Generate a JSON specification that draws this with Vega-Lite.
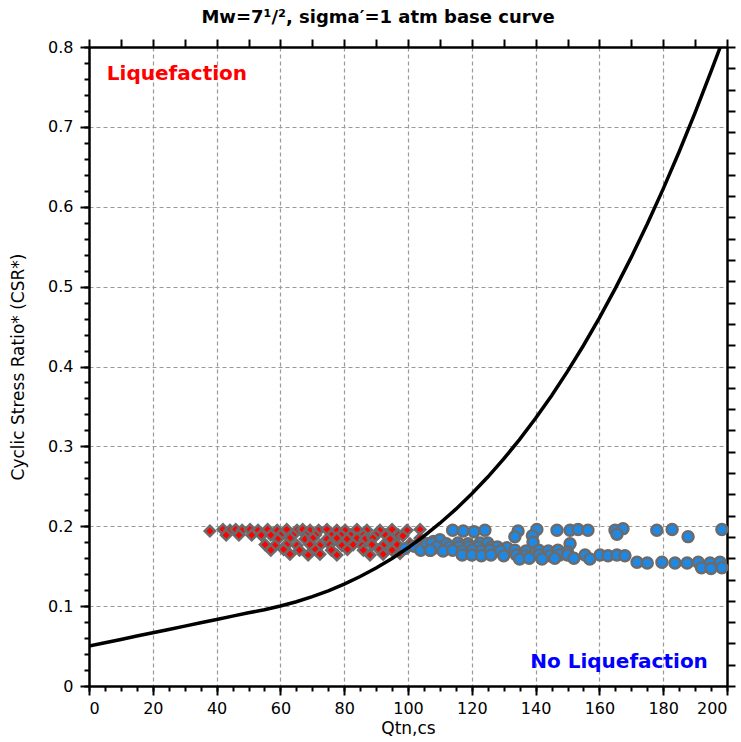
{
  "$schema": "https://vega.github.io/schema/vega-lite/v6.json",
  "width": 638,
  "height": 639,
  "autosize": "none",
  "padding": {"left": 89, "top": 47, "right": 14, "bottom": 56},
  "background": "white",
  "config": {"view": {"stroke": null}, "font": "DejaVu Sans"},
  "title": {"text": "Mw=7¹/², sigma′=1 atm base curve", "fontSize": 18, "fontWeight": "bold", "font": "DejaVu Sans", "color": "black", "offset": 11, "dx": -30, "anchor": "middle", "frame": "group"},
  "datasets": {
    "curve": [
      {"Q": 0, "CSR": 0.05}, {"Q": 5, "CSR": 0.0542}, {"Q": 10, "CSR": 0.0583}, {"Q": 15, "CSR": 0.0625},
      {"Q": 20, "CSR": 0.0667}, {"Q": 25, "CSR": 0.0708}, {"Q": 30, "CSR": 0.075}, {"Q": 35, "CSR": 0.0792},
      {"Q": 40, "CSR": 0.0833}, {"Q": 45, "CSR": 0.0875}, {"Q": 50, "CSR": 0.0916}, {"Q": 55, "CSR": 0.0955},
      {"Q": 60, "CSR": 0.1001}, {"Q": 65, "CSR": 0.1055}, {"Q": 70, "CSR": 0.1119}, {"Q": 75, "CSR": 0.1192},
      {"Q": 80, "CSR": 0.1276}, {"Q": 85, "CSR": 0.1371}, {"Q": 90, "CSR": 0.1478}, {"Q": 95, "CSR": 0.1597},
      {"Q": 100, "CSR": 0.173}, {"Q": 105, "CSR": 0.1877}, {"Q": 110, "CSR": 0.2038}, {"Q": 115, "CSR": 0.2214},
      {"Q": 120, "CSR": 0.2407}, {"Q": 125, "CSR": 0.2616}, {"Q": 130, "CSR": 0.2843}, {"Q": 135, "CSR": 0.3088},
      {"Q": 140, "CSR": 0.3352}, {"Q": 145, "CSR": 0.3635}, {"Q": 150, "CSR": 0.3939}, {"Q": 155, "CSR": 0.4263},
      {"Q": 160, "CSR": 0.4609}, {"Q": 165, "CSR": 0.4978}, {"Q": 170, "CSR": 0.5369}, {"Q": 175, "CSR": 0.5784},
      {"Q": 180, "CSR": 0.6224}, {"Q": 185, "CSR": 0.6688}, {"Q": 190, "CSR": 0.7179}, {"Q": 195, "CSR": 0.7696},
      {"Q": 197.9, "CSR": 0.8}
    ],
    "liq": [
      {"Q": 37.9, "CSR": 0.194}, {"Q": 42, "CSR": 0.196}, {"Q": 44.2, "CSR": 0.195}, {"Q": 46, "CSR": 0.196},
      {"Q": 48, "CSR": 0.195}, {"Q": 50.5, "CSR": 0.196}, {"Q": 53, "CSR": 0.195}, {"Q": 56, "CSR": 0.196},
      {"Q": 59, "CSR": 0.195}, {"Q": 62, "CSR": 0.196}, {"Q": 65.2, "CSR": 0.195}, {"Q": 67, "CSR": 0.196},
      {"Q": 69.3, "CSR": 0.195}, {"Q": 72, "CSR": 0.195}, {"Q": 74.6, "CSR": 0.196}, {"Q": 77.7, "CSR": 0.195},
      {"Q": 80.3, "CSR": 0.195}, {"Q": 84, "CSR": 0.196}, {"Q": 87.1, "CSR": 0.195}, {"Q": 91.2, "CSR": 0.195},
      {"Q": 95, "CSR": 0.196}, {"Q": 99.7, "CSR": 0.195}, {"Q": 103.8, "CSR": 0.196},
      {"Q": 43, "CSR": 0.189}, {"Q": 47, "CSR": 0.189}, {"Q": 51, "CSR": 0.189}, {"Q": 54, "CSR": 0.189},
      {"Q": 57, "CSR": 0.189}, {"Q": 60, "CSR": 0.189}, {"Q": 64, "CSR": 0.189}, {"Q": 68, "CSR": 0.189},
      {"Q": 71, "CSR": 0.189}, {"Q": 76, "CSR": 0.189}, {"Q": 79, "CSR": 0.189}, {"Q": 82, "CSR": 0.189},
      {"Q": 86, "CSR": 0.189}, {"Q": 90, "CSR": 0.189}, {"Q": 93, "CSR": 0.189}, {"Q": 97, "CSR": 0.189},
      {"Q": 59.2, "CSR": 0.184}, {"Q": 63, "CSR": 0.185}, {"Q": 67.7, "CSR": 0.184}, {"Q": 70.2, "CSR": 0.185},
      {"Q": 74.6, "CSR": 0.184}, {"Q": 77.7, "CSR": 0.185}, {"Q": 80.9, "CSR": 0.184}, {"Q": 84, "CSR": 0.185},
      {"Q": 86.5, "CSR": 0.184}, {"Q": 89, "CSR": 0.185}, {"Q": 94.4, "CSR": 0.184}, {"Q": 98.4, "CSR": 0.188},
      {"Q": 103.8, "CSR": 0.185},
      {"Q": 55.2, "CSR": 0.177}, {"Q": 58.3, "CSR": 0.176}, {"Q": 62, "CSR": 0.177}, {"Q": 65.2, "CSR": 0.176},
      {"Q": 69.3, "CSR": 0.177}, {"Q": 72.4, "CSR": 0.176}, {"Q": 75.5, "CSR": 0.177}, {"Q": 79.3, "CSR": 0.176},
      {"Q": 82.8, "CSR": 0.177}, {"Q": 85.6, "CSR": 0.176}, {"Q": 88.7, "CSR": 0.177}, {"Q": 92.2, "CSR": 0.176},
      {"Q": 96.6, "CSR": 0.177}, {"Q": 100.6, "CSR": 0.178},
      {"Q": 57, "CSR": 0.17}, {"Q": 61, "CSR": 0.171}, {"Q": 66, "CSR": 0.17}, {"Q": 71, "CSR": 0.171},
      {"Q": 76, "CSR": 0.17}, {"Q": 81, "CSR": 0.171}, {"Q": 86, "CSR": 0.17}, {"Q": 91, "CSR": 0.171},
      {"Q": 95, "CSR": 0.17},
      {"Q": 63, "CSR": 0.165}, {"Q": 68.7, "CSR": 0.164}, {"Q": 72.4, "CSR": 0.165}, {"Q": 77.7, "CSR": 0.164},
      {"Q": 88.1, "CSR": 0.164}, {"Q": 92.2, "CSR": 0.165}, {"Q": 97.5, "CSR": 0.166}
    ],
    "noliq": [
      {"Q": 99, "CSR": 0.172}, {"Q": 102, "CSR": 0.175}, {"Q": 104, "CSR": 0.17}, {"Q": 106, "CSR": 0.178},
      {"Q": 107, "CSR": 0.17}, {"Q": 108, "CSR": 0.181}, {"Q": 108.5, "CSR": 0.173}, {"Q": 110, "CSR": 0.183},
      {"Q": 111, "CSR": 0.17}, {"Q": 112, "CSR": 0.178},
      {"Q": 114, "CSR": 0.195}, {"Q": 117.3, "CSR": 0.194}, {"Q": 120.7, "CSR": 0.193}, {"Q": 124.1, "CSR": 0.195},
      {"Q": 134.5, "CSR": 0.194}, {"Q": 140.4, "CSR": 0.196}, {"Q": 146.7, "CSR": 0.195}, {"Q": 150.8, "CSR": 0.195},
      {"Q": 153.3, "CSR": 0.196}, {"Q": 156.4, "CSR": 0.195}, {"Q": 164.9, "CSR": 0.195}, {"Q": 167.4, "CSR": 0.197},
      {"Q": 178, "CSR": 0.195}, {"Q": 182.8, "CSR": 0.196}, {"Q": 198.4, "CSR": 0.196},
      {"Q": 133.5, "CSR": 0.187}, {"Q": 139, "CSR": 0.188}, {"Q": 165.5, "CSR": 0.19}, {"Q": 187.8, "CSR": 0.187},
      {"Q": 107.5, "CSR": 0.179}, {"Q": 115.7, "CSR": 0.179}, {"Q": 118.8, "CSR": 0.178}, {"Q": 122.6, "CSR": 0.179},
      {"Q": 125, "CSR": 0.179}, {"Q": 139.2, "CSR": 0.18}, {"Q": 150.8, "CSR": 0.178},
      {"Q": 109, "CSR": 0.174}, {"Q": 113, "CSR": 0.174}, {"Q": 116, "CSR": 0.174}, {"Q": 119, "CSR": 0.174},
      {"Q": 122, "CSR": 0.174}, {"Q": 126, "CSR": 0.174}, {"Q": 128, "CSR": 0.174}, {"Q": 131, "CSR": 0.173},
      {"Q": 107, "CSR": 0.17}, {"Q": 111, "CSR": 0.169}, {"Q": 114, "CSR": 0.17}, {"Q": 117, "CSR": 0.169},
      {"Q": 120, "CSR": 0.17}, {"Q": 123, "CSR": 0.169}, {"Q": 125.7, "CSR": 0.17}, {"Q": 129, "CSR": 0.169},
      {"Q": 133.5, "CSR": 0.17}, {"Q": 137, "CSR": 0.169}, {"Q": 141, "CSR": 0.17}, {"Q": 144, "CSR": 0.169},
      {"Q": 147, "CSR": 0.17}, {"Q": 150, "CSR": 0.168},
      {"Q": 117, "CSR": 0.164}, {"Q": 120, "CSR": 0.164}, {"Q": 123, "CSR": 0.163}, {"Q": 126, "CSR": 0.164},
      {"Q": 130, "CSR": 0.163}, {"Q": 134, "CSR": 0.164}, {"Q": 137, "CSR": 0.163}, {"Q": 141, "CSR": 0.164},
      {"Q": 144.5, "CSR": 0.163}, {"Q": 147.5, "CSR": 0.164}, {"Q": 150, "CSR": 0.164}, {"Q": 155.5, "CSR": 0.164},
      {"Q": 160.2, "CSR": 0.164}, {"Q": 162.7, "CSR": 0.163}, {"Q": 165.5, "CSR": 0.164}, {"Q": 168, "CSR": 0.163},
      {"Q": 135, "CSR": 0.159}, {"Q": 138, "CSR": 0.16}, {"Q": 142, "CSR": 0.159}, {"Q": 146, "CSR": 0.16},
      {"Q": 152, "CSR": 0.16}, {"Q": 157, "CSR": 0.159},
      {"Q": 171.8, "CSR": 0.155}, {"Q": 175, "CSR": 0.154}, {"Q": 179.6, "CSR": 0.155}, {"Q": 183.7, "CSR": 0.154},
      {"Q": 187.5, "CSR": 0.154}, {"Q": 191, "CSR": 0.155}, {"Q": 194.7, "CSR": 0.154}, {"Q": 197.8, "CSR": 0.155},
      {"Q": 192, "CSR": 0.148}, {"Q": 195, "CSR": 0.147}, {"Q": 198.4, "CSR": 0.148}
    ]
  },
  "layer": [
    {
      "data": {"name": "liq"},
      "mark": {"type": "point", "shape": "diamond", "filled": true, "size": 110, "fill": "#ff0000", "stroke": "#6b6b6b", "strokeWidth": 2.5, "opacity": 1},
      "encoding": {
        "x": {"field": "Q", "type": "quantitative", "scale": {"domain": [0, 200], "nice": false},
          "axis": {"orient": "bottom", "values": [0,5,10,15,20,25,30,35,40,45,50,55,60,65,70,75,80,85,90,95,100,105,110,115,120,125,130,135,140,145,150,155,160,165,170,175,180,185,190,195,200], "labels": false, "tickSize": 5, "tickWidth": 2, "tickColor": "black", "domain": false, "grid": false, "title": null}},
        "y": {"field": "CSR", "type": "quantitative", "scale": {"domain": [0, 0.8], "nice": false},
          "axis": {"orient": "left", "values": [0,0.02,0.04,0.06,0.08,0.1,0.12,0.14,0.16,0.18,0.2,0.22,0.24,0.26,0.28,0.3,0.32,0.34,0.36,0.38,0.4,0.42,0.44,0.46,0.48,0.5,0.52,0.54,0.56,0.58,0.6,0.62,0.64,0.66,0.68,0.7,0.72,0.74,0.76,0.78,0.8], "labels": false, "tickSize": 5, "tickWidth": 2, "tickColor": "black", "domain": false, "grid": false, "title": null}}
      }
    },
    {
      "data": {"name": "noliq"},
      "mark": {"type": "point", "shape": "circle", "filled": true, "size": 120, "fill": "#1e88e5", "stroke": "#6b6b6b", "strokeWidth": 2.5, "opacity": 1},
      "encoding": {
        "x": {"field": "Q", "type": "quantitative", "scale": {"domain": [0, 200], "nice": false},
          "axis": {"orient": "top", "values": [0,10,20,30,40,50,60,70,80,90,100,110,120,130,140,150,160,170,180,190,200], "labels": false, "tickSize": 8, "tickWidth": 2, "tickColor": "black", "domain": true, "domainColor": "black", "domainWidth": 2.5, "grid": false, "title": null}},
        "y": {"field": "CSR", "type": "quantitative", "scale": {"domain": [0, 0.8], "nice": false},
          "axis": {"orient": "right", "values": [0,0.02667,0.05333,0.08,0.10667,0.13333,0.16,0.18667,0.21333,0.24,0.26667,0.29333,0.32,0.34667,0.37333,0.4,0.42667,0.45333,0.48,0.50667,0.53333,0.56,0.58667,0.61333,0.64,0.66667,0.69333,0.72,0.74667,0.77333,0.8], "labels": false, "tickSize": 8, "tickWidth": 2, "tickColor": "black", "domain": true, "domainColor": "black", "domainWidth": 2.5, "grid": false, "title": null}}
      }
    },
    {
      "data": {"name": "curve"},
      "mark": {"type": "line", "color": "black", "strokeWidth": 3.5, "clip": true},
      "encoding": {
        "x": {"field": "Q", "type": "quantitative", "scale": {"domain": [0, 200], "nice": false},
          "axis": {"orient": "bottom", "values": [0,20,40,60,80,100,120,140,160,180,200], "tickSize": 9, "tickWidth": 2, "tickColor": "black", "domainColor": "black", "domainWidth": 2.5, "labelFontSize": 16, "labelColor": "black", "labelFont": "DejaVu Sans", "labelPadding": 5, "grid": true, "gridDash": [4, 3], "gridColor": "#9a9a9a", "gridWidth": 1.2, "title": "Qtn,cs", "titleFontSize": 17, "titleFontWeight": "normal", "titleColor": "black", "titleFont": "DejaVu Sans", "titlePadding": 4}},
        "y": {"field": "CSR", "type": "quantitative", "scale": {"domain": [0, 0.8], "nice": false},
          "axis": {"orient": "left", "values": [0,0.1,0.2,0.3,0.4,0.5,0.6,0.7,0.8], "format": "~g", "tickSize": 9, "tickWidth": 2, "tickColor": "black", "domainColor": "black", "domainWidth": 2.5, "labelFontSize": 16, "labelColor": "black", "labelFont": "DejaVu Sans", "labelPadding": 7, "grid": true, "gridDash": [4, 3], "gridColor": "#9a9a9a", "gridWidth": 1.2, "title": "Cyclic Stress Ratio* (CSR*)", "titleFontSize": 17, "titleFontWeight": "normal", "titleColor": "black", "titleFont": "DejaVu Sans", "titlePadding": 20}}
      }
    },
    {
      "data": {"values": [{}]},
      "mark": {"type": "text", "align": "left", "baseline": "middle", "font": "DejaVu Sans", "fontSize": 20, "fontWeight": "bold", "color": "#ff0000"},
      "encoding": {
        "x": {"datum": 5.6, "type": "quantitative", "axis": null},
        "y": {"datum": 0.766, "type": "quantitative", "axis": null},
        "text": {"value": "Liquefaction"}
      }
    },
    {
      "data": {"values": [{}]},
      "mark": {"type": "text", "align": "right", "baseline": "middle", "font": "DejaVu Sans", "fontSize": 20, "fontWeight": "bold", "color": "#0000ff"},
      "encoding": {
        "x": {"datum": 194, "type": "quantitative", "axis": null},
        "y": {"datum": 0.03, "type": "quantitative", "axis": null},
        "text": {"value": "No Liquefaction"}
      }
    }
  ],
  "resolve": {"axis": {"x": "independent", "y": "independent"}}
}
